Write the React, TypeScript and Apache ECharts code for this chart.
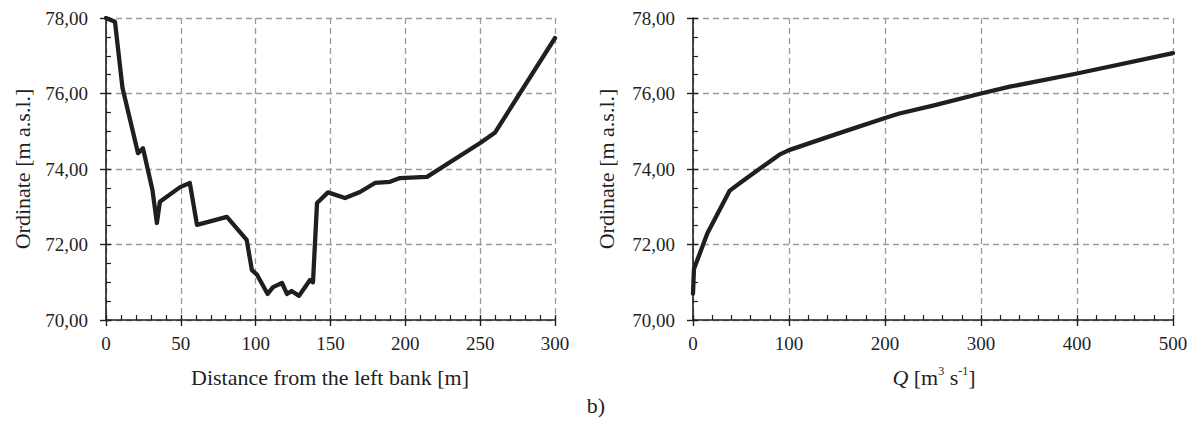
import React, { useEffect, useRef } from "react";
import * as echarts from "echarts";

// Left panel: cross-section profile (distance [m], ordinate [m a.s.l.])
const profileDistance = [0, 6, 11, 21.4, 24.7, 31, 34, 36, 49.5, 56, 60.8, 80.8, 94, 97.5, 100.9, 108, 111.6, 117.6, 120.9, 124, 129, 136.3, 138.3, 141, 148.3, 159.7, 169.7, 179.7, 189.8, 196.4, 214.5, 250, 260, 300];
const profileOrdinate = [78.0, 77.9, 76.15, 74.42, 74.55, 73.45, 72.57, 73.13, 73.52, 73.63, 72.52, 72.73, 72.12, 71.32, 71.2, 70.69, 70.87, 70.98, 70.69, 70.77, 70.64, 71.06, 71.0, 73.1, 73.38, 73.23, 73.39, 73.63, 73.66, 73.76, 73.79, 74.69, 74.97, 77.47];

// Right panel: rating curve (Q [m3 s-1], ordinate [m a.s.l.])
const dischargeQ = [0, 1, 15, 38, 50, 90, 100, 150, 200, 215, 250, 300, 330, 400, 500];
const ratingOrdinate = [70.7, 71.35, 72.3, 73.42, 73.65, 74.38, 74.5, 74.93, 75.35, 75.47, 75.68, 76.0, 76.18, 76.53, 77.07];

const leftXTicks = { min: 0, max: 300, interval: 50 };
const rightXTicks = { min: 0, max: 500, interval: 100 };
const yTicks = { min: 70, max: 78, interval: 2 };

const FONT = "Liberation Serif";
const INK = "#1f1f1f";

export default function App() {
  const ref = useRef<HTMLDivElement>(null);
  useEffect(() => {
    document.body.style.margin = "0";
    const chart = echarts.init(ref.current!, null, { renderer: "svg" });

    const grids = [
      { left: 106, right: 1192 - 555, top: 18, bottom: 422 - 320 },
      { left: 693, right: 1192 - 1173, top: 18, bottom: 422 - 320 },
    ];

    const splitLine = { show: true, lineStyle: { color: "#9a9a9a", type: [6, 4], width: 1.3 } };
    const labelStyle = { color: INK, fontFamily: FONT, fontSize: 19 };

    const makeX = (gridIndex: number, t: { min: number; max: number; interval: number }) => [
      {
        type: "value", gridIndex, min: t.min, max: t.max, interval: t.interval, position: "bottom",
        axisLine: { show: true, lineStyle: { color: INK, width: 1.6 } },
        axisTick: { show: true, inside: false, length: 6, lineStyle: { color: INK, width: 1.4 } },
        minorTick: { show: false },
        axisLabel: { ...labelStyle, margin: 14 },
        splitLine,
      },
      {
        type: "value", gridIndex, min: t.min, max: t.max, interval: t.interval, position: "bottom",
        axisLine: { show: false },
        axisTick: { show: true, inside: true, length: 5, lineStyle: { color: INK, width: 1.4 } },
        minorTick: { show: true, splitNumber: 5, length: 5, lineStyle: { color: INK, width: 1.2 } },
        axisLabel: { show: false },
        splitLine: { show: false },
      },
    ];
    const makeY = (gridIndex: number) => [
      {
        type: "value", gridIndex, min: yTicks.min, max: yTicks.max, interval: yTicks.interval, position: "left",
        axisLine: { show: true, lineStyle: { color: INK, width: 1.6 } },
        axisTick: { show: true, inside: false, length: 6, lineStyle: { color: INK, width: 1.4 } },
        minorTick: { show: false },
        axisLabel: { ...labelStyle, margin: 18, formatter: (v: number) => v.toFixed(2).replace(".", ",") },
        splitLine,
      },
      {
        type: "value", gridIndex, min: yTicks.min, max: yTicks.max, interval: yTicks.interval, position: "left",
        axisLine: { show: false },
        axisTick: { show: true, inside: true, length: 5, lineStyle: { color: INK, width: 1.4 } },
        minorTick: { show: true, splitNumber: 4, length: 5, lineStyle: { color: INK, width: 1.2 } },
        axisLabel: { show: false },
        splitLine: { show: false },
      },
    ];

    const lineStyle = { color: INK, width: 4.3, cap: "round", join: "round" };

    chart.setOption({
      animation: false,
      textStyle: { fontFamily: FONT },
      grid: grids,
      xAxis: [...makeX(0, leftXTicks), ...makeX(1, rightXTicks)],
      yAxis: [...makeY(0), ...makeY(1)],
      series: [
        {
          type: "line", xAxisIndex: 0, yAxisIndex: 0, showSymbol: false, symbol: "none",
          data: profileDistance.map((d, i) => [d, profileOrdinate[i]]),
          lineStyle, z: 5,
        },
        {
          type: "line", xAxisIndex: 2, yAxisIndex: 2, showSymbol: false, symbol: "none",
          data: dischargeQ.map((q, i) => [q, ratingOrdinate[i]]),
          lineStyle, z: 5,
        },
      ],
      graphic: [
        {
          type: "text", x: 22, y: 169, rotation: Math.PI / 2,
          style: { text: "Ordinate [m a.s.l.]", fill: INK, fontFamily: FONT, fontSize: 22, align: "center", verticalAlign: "middle" },
        },
        {
          type: "text", x: 606, y: 169, rotation: Math.PI / 2,
          style: { text: "Ordinate [m a.s.l.]", fill: INK, fontFamily: FONT, fontSize: 22, align: "center", verticalAlign: "middle" },
        },
        {
          type: "text", x: 330, y: 377,
          style: { text: "Distance from the left bank [m]", fill: INK, fontFamily: FONT, fontSize: 22, align: "center", verticalAlign: "middle" },
        },
        {
          type: "text", x: 934, y: 377,
          style: {
            text: "{i|Q} [m{s|3} s{s|-1}]", fill: INK, fontFamily: FONT, fontSize: 22, align: "center", verticalAlign: "middle",
            rich: {
              i: { fontStyle: "italic", fontFamily: FONT, fontSize: 22, fill: INK, lineHeight: 24 },
              s: { fontFamily: FONT, fontSize: 12, fill: INK, verticalAlign: "top", lineHeight: 24 },
            },
          },
        },
        {
          type: "text", x: 596, y: 405,
          style: { text: "b)", fill: INK, fontFamily: FONT, fontSize: 22, align: "center", verticalAlign: "middle" },
        },
      ],
    });
    return () => chart.dispose();
  }, []);
  return <div ref={ref} style={{ width: 1192, height: 422 }} />;
}
